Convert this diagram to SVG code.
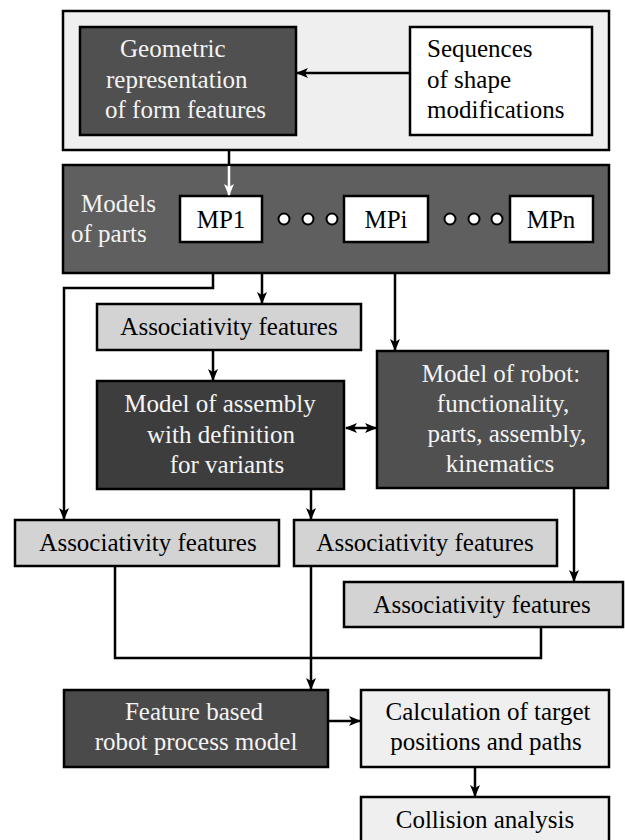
<svg xmlns="http://www.w3.org/2000/svg" width="625" height="840" viewBox="0 0 625 840">
<style>
  rect { stroke: #000; stroke-width: 2.5; }
  text { font-family: "Liberation Serif", "DejaVu Serif", "Noto Serif", "Times New Roman", serif; font-size: 25px; }
  .lt { fill: #000; }
  .wt { fill: #f4f4f4; }
  .c { text-anchor: middle; }
  .ln { fill: none; stroke: #000; stroke-width: 2.5; }
  .wln { fill: none; stroke: #fff; stroke-width: 2.5; }
  .light { fill: #efefef; }
  .assoc { fill: #d3d3d3; }
  .white { fill: #fff; }
</style>
<defs>
  <marker id="ah" viewBox="0 0 12 10" refX="11" refY="5" markerWidth="12" markerHeight="10" markerUnits="userSpaceOnUse" orient="auto-start-reverse">
    <path d="M0,0 L12,5 L0,10 L3,5 z" fill="#000"/>
  </marker>
  <marker id="ahw" viewBox="0 0 12 10" refX="11" refY="5" markerWidth="12" markerHeight="10" markerUnits="userSpaceOnUse" orient="auto">
    <path d="M0,0 L12,5 L0,10 L3,5 z" fill="#fff"/>
  </marker>
</defs>

<g id="top-container">
  <rect x="63" y="11" width="546" height="139" class="light"/>
</g>
<g id="geometric">
  <rect x="80" y="27" width="216" height="108" fill="#505050"/>
  <text class="wt" x="120" y="57" font-family="Liberation Serif">Geometric</text>
  <text class="wt" x="106" y="88" font-family="Liberation Serif">representation</text>
  <text class="wt" x="105" y="118" font-family="Liberation Serif">of form features</text>
</g>
<g id="sequences">
  <rect x="410" y="27" width="182" height="108" class="white"/>
  <text class="lt" x="427" y="57">Sequences</text>
  <text class="lt" x="427" y="88">of shape</text>
  <text class="lt" x="427" y="118">modifications</text>
</g>

<g id="models-container">
  <rect x="63" y="165" width="546" height="108" fill="#5f5f5f"/>
  <text class="wt" x="81" y="212">Models</text>
  <text class="wt" x="71" y="242">of parts</text>
</g>
<g id="mp1">
  <rect x="180" y="196" width="82" height="46" class="white"/>
  <text class="lt c" x="221" y="228">MP1</text>
</g>
<g id="dots1" fill="#fff" stroke="#000" stroke-width="2">
  <circle cx="284" cy="219" r="5.5"/>
  <circle cx="308" cy="219" r="5.5"/>
  <circle cx="332" cy="219" r="5.5"/>
</g>
<g id="mpi">
  <rect x="344" y="196" width="84" height="46" class="white"/>
  <text class="lt c" x="386" y="228">MPi</text>
</g>
<g id="dots2" fill="#fff" stroke="#000" stroke-width="2">
  <circle cx="450" cy="219" r="5.5"/>
  <circle cx="474" cy="219" r="5.5"/>
  <circle cx="497" cy="219" r="5.5"/>
</g>
<g id="mpn">
  <rect x="510" y="196" width="83" height="46" class="white"/>
  <text class="lt c" x="551" y="228">MPn</text>
</g>

<g id="assoc1">
  <rect x="97" y="304" width="264" height="46" class="assoc"/>
  <text class="lt c" x="229" y="335">Associativity features</text>
</g>
<g id="assembly">
  <rect x="97" y="381" width="247" height="108" fill="#3d3d3d"/>
  <text class="wt c" x="220" y="412">Model of assembly</text>
  <text class="wt c" x="221" y="443">with definition</text>
  <text class="wt c" x="227" y="473">for variants</text>
</g>
<g id="robot">
  <rect x="377" y="351" width="231" height="137" fill="#505050"/>
  <text class="wt c" x="501" y="382">Model of robot:</text>
  <text class="wt c" x="503" y="412">functionality,</text>
  <text class="wt c" x="507" y="442">parts, assembly,</text>
  <text class="wt c" x="500" y="472">kinematics</text>
</g>
<g id="assoc2">
  <rect x="15" y="520" width="264" height="46" class="assoc"/>
  <text class="lt c" x="148" y="551">Associativity features</text>
</g>
<g id="assoc3">
  <rect x="294" y="520" width="263" height="46" class="assoc"/>
  <text class="lt c" x="425" y="551">Associativity features</text>
</g>
<g id="assoc4">
  <rect x="344" y="582" width="279" height="45" class="assoc"/>
  <text class="lt c" x="482" y="613">Associativity features</text>
</g>
<g id="feature">
  <rect x="64" y="690" width="264" height="77" fill="#4a4a4a"/>
  <text class="wt c" x="194" y="720">Feature based</text>
  <text class="wt c" x="196" y="750">robot process model</text>
</g>
<g id="calculation">
  <rect x="361" y="690" width="248" height="77" class="light"/>
  <text class="lt c" x="488" y="720">Calculation of target</text>
  <text class="lt c" x="486" y="750">positions and paths</text>
</g>
<g id="collision">
  <rect x="361" y="797" width="248" height="60" class="light"/>
  <text class="lt c" x="485" y="828">Collision analysis</text>
</g>

<g id="connectors">
  <line class="ln" x1="410" y1="73" x2="297" y2="73" marker-end="url(#ah)"/>
  <line class="ln" x1="229" y1="150" x2="229" y2="165"/>
  <line class="wln" x1="229" y1="166" x2="229" y2="195" marker-end="url(#ahw)"/>
  <polyline class="ln" points="213,273 213,288 64,288 64,519" marker-end="url(#ah)"/>
  <line class="ln" x1="262" y1="273" x2="262" y2="303" marker-end="url(#ah)"/>
  <line class="ln" x1="395" y1="273" x2="395" y2="350" marker-end="url(#ah)"/>
  <line class="ln" x1="213" y1="350" x2="213" y2="380" marker-end="url(#ah)"/>
  <line class="ln" x1="346" y1="428" x2="376" y2="428" marker-start="url(#ah)" marker-end="url(#ah)"/>
  <line class="ln" x1="311" y1="489" x2="311" y2="519" marker-end="url(#ah)"/>
  <line class="ln" x1="574" y1="488" x2="574" y2="581" marker-end="url(#ah)"/>
  <polyline class="ln" points="115,566 115,658 541,658 541,627"/>
  <line class="ln" x1="311" y1="566" x2="311" y2="689" marker-end="url(#ah)"/>
  <line class="ln" x1="328" y1="721" x2="360" y2="721" marker-end="url(#ah)"/>
  <line class="ln" x1="475" y1="767" x2="475" y2="796" marker-end="url(#ah)"/>
</g>
</svg>
